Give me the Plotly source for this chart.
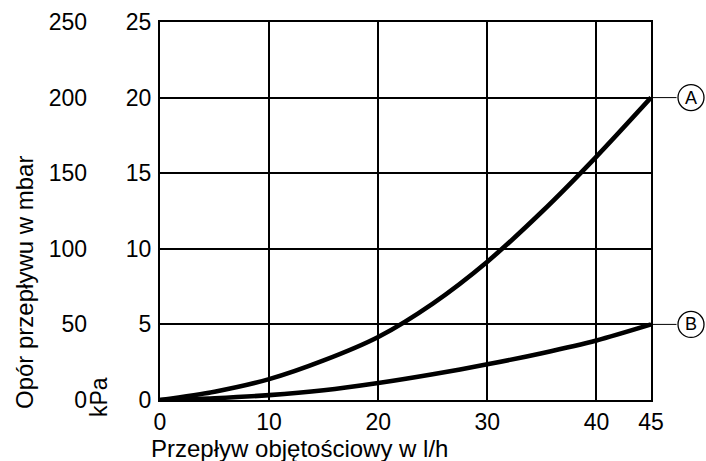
import plotly.graph_objects as go

flow = [0, 5, 10, 15, 20, 25, 30, 35, 40, 45]
curve_a = [0, 0.55, 1.38, 2.62, 4.17, 6.38, 9.15, 12.45, 16.1, 20]
curve_b = [0, 0.12, 0.32, 0.64, 1.12, 1.7, 2.36, 3.1, 3.94, 5]
x_ticks = [0, 10, 20, 30, 40, 45]
kpa_ticks = [0, 5, 10, 15, 20, 25]
mbar_ticks = [0, 50, 100, 150, 200, 250]
labels = ["A", "B"]

FONT = "Arial, Liberation Sans, sans-serif"
FS = 23
FT = 24
OFF = 0  # page body margin removed via post_script
W, H = 706, 461
# target plot rectangle in window pixels
PL, PR, PT, PB = 160, 651, 22, 400
ML, MR, MT, MB = 0, W - (PR - OFF), PT - OFF, H - (PB - OFF)
PW = W - ML - MR
PH = H - MT - MB
PLOT_W = PR - PL
PLOT_H = PB - PT


def px(xw):
    return (xw - OFF) / PW


def py(yw):
    return (PB - yw) / PH


fig = go.Figure()
for ys in (curve_a, curve_b):
    fig.add_trace(go.Scatter(x=flow, y=ys, mode="lines",
                             line=dict(color="black", width=4.6, shape="spline", smoothing=0.8),
                             showlegend=False, hoverinfo="skip"))

# invisible trace to activate mbar axis
fig.add_trace(go.Scatter(x=[0, 45], y=[0, 250], yaxis="y2", mode="markers",
                         marker=dict(opacity=0), showlegend=False, hoverinfo="skip"))

# circled labels with leader lines
R = 13
cx = 1 + (691 - PR) / PLOT_W
rx = R / PLOT_W
ry = R / PLOT_H
for lab, ys in zip(labels, (curve_a, curve_b)):
    fig.add_annotation(x=flow[-1], y=ys[-1], xref="x", yref="y", text="",
                       showarrow=True, arrowhead=0, arrowwidth=1, arrowcolor="black",
                       ax=691 - R - PR, ay=0)
    yf = ys[-1] / 25
    fig.add_shape(type="circle", xref="x domain", yref="y domain",
                  x0=cx - rx, x1=cx + rx, y0=yf - ry, y1=yf + ry,
                  line=dict(color="black", width=1.3), fillcolor="white")
    fig.add_annotation(x=cx, y=yf, xref="x domain", yref="y domain", text=lab,
                       showarrow=False, xanchor="center", yanchor="middle",
                       font=dict(family=FONT, size=18, color="black"))

fig.add_annotation(text="Opór przepływu w mbar", xref="paper", yref="paper",
                   x=px(24), y=py(283), textangle=-90, showarrow=False,
                   xanchor="center", yanchor="middle",
                   font=dict(family=FONT, size=FT, color="black"))
fig.add_annotation(text="kPa", xref="paper", yref="paper",
                   x=px(99), y=py(397), textangle=-90, showarrow=False,
                   xanchor="center", yanchor="middle",
                   font=dict(family=FONT, size=FS, color="black"))
fig.add_annotation(text="Przepływ objętościowy w l/h", xref="paper", yref="paper",
                   x=px(299), y=py(448), showarrow=False,
                   xanchor="center", yanchor="middle",
                   font=dict(family=FONT, size=FT, color="black"))

fig.update_layout(
    width=W, height=H, margin=dict(l=ML, r=MR, t=MT, b=MB, autoexpand=False),
    paper_bgcolor="white", plot_bgcolor="white",
    font=dict(family=FONT, size=FS, color="black"),
    xaxis=dict(domain=[px(PL), 1], range=[0, 45], tickvals=x_ticks,
               showgrid=True, gridcolor="black", gridwidth=1.5,
               showline=True, linecolor="black", linewidth=2, mirror=True,
               zeroline=False, ticks="outside", ticklen=0, ticklabelstandoff=0,
               tickfont=dict(family=FONT, size=FS, color="black")),
    yaxis=dict(range=[0, 25], tickvals=kpa_ticks,
               showgrid=True, gridcolor="black", gridwidth=1.5,
               showline=True, linecolor="black", linewidth=2, mirror=True,
               zeroline=False, ticks="outside", ticklen=0, ticklabelstandoff=2,
               tickfont=dict(family=FONT, size=FS, color="black")),
    yaxis2=dict(range=[0, 250], tickvals=mbar_ticks, overlaying="y", side="left",
                anchor="free", position=px(87), showgrid=False, showline=False,
                zeroline=False, ticks="", ticklabelstandoff=0,
                tickfont=dict(family=FONT, size=FS, color="black")),
)

fig.write_html(
    "out.html",
    config={"displayModeBar": False},
    post_script="document.body.style.margin='0';document.body.style.overflow='hidden';",
)
